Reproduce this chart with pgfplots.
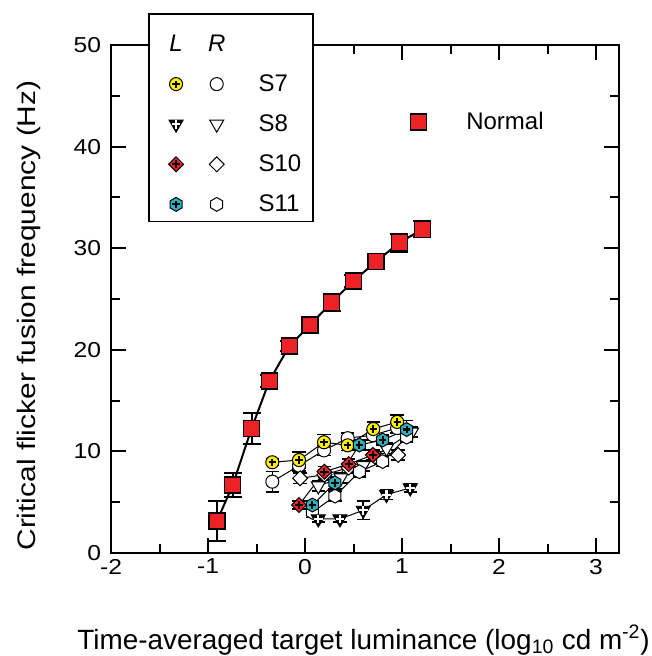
\documentclass[border=0pt]{standalone}
\usepackage{fontspec}
\setmainfont{Liberation Sans}
\newfontfamily\tickfont{Liberation Sans}[FakeStretch=1.14]
\newfontfamily\ylfont{Liberation Sans}[FakeStretch=1.18]
\usepackage{pgfplots}
\pgfplotsset{compat=1.18}
\definecolor{myred}{RGB}{237,34,36}
\definecolor{myyellow}{RGB}{255,238,0}
\definecolor{mycyan}{RGB}{44,178,190}
\newcommand\lab{\fontsize{18}{21.6}\selectfont}

\def\markplus#1{%
  \begin{pgfscope}\pgfsetlinewidth{1.6pt}\pgfsetstrokecolor{#1}%
  \pgfpathmoveto{\pgfqpoint{-0.55\pgfplotmarksize}{0pt}}\pgfpathlineto{\pgfqpoint{0.55\pgfplotmarksize}{0pt}}%
  \pgfpathmoveto{\pgfqpoint{0pt}{-0.55\pgfplotmarksize}}\pgfpathlineto{\pgfqpoint{0pt}{0.55\pgfplotmarksize}}%
  \pgfusepathqstroke\end{pgfscope}}
\pgfdeclareplotmark{circ}{\pgfpathcircle{\pgfpointorigin}{\pgfplotmarksize}\pgfusepathqfillstroke}
\pgfdeclareplotmark{cplus}{\pgfpathcircle{\pgfpointorigin}{\pgfplotmarksize}\pgfusepathqfillstroke\markplus{black}}
\def\hexpath{\pgfpathmoveto{\pgfpointpolar{90}{\pgfplotmarksize}}%
  \pgfpathlineto{\pgfpointpolar{150}{\pgfplotmarksize}}\pgfpathlineto{\pgfpointpolar{210}{\pgfplotmarksize}}%
  \pgfpathlineto{\pgfpointpolar{270}{\pgfplotmarksize}}\pgfpathlineto{\pgfpointpolar{330}{\pgfplotmarksize}}%
  \pgfpathlineto{\pgfpointpolar{30}{\pgfplotmarksize}}\pgfpathclose}
\pgfdeclareplotmark{hex}{\hexpath\pgfusepathqfillstroke}
\pgfdeclareplotmark{hexplus}{\hexpath\pgfusepathqfillstroke\markplus{black}}
\def\tripath{\pgfpathmoveto{\pgfpointpolar{270}{\pgfplotmarksize}}%
  \pgfpathlineto{\pgfpointpolar{30}{\pgfplotmarksize}}\pgfpathlineto{\pgfpointpolar{150}{\pgfplotmarksize}}\pgfpathclose}
\pgfdeclareplotmark{tri}{\tripath\pgfusepathqfillstroke}
\pgfdeclareplotmark{triplus}{\tripath\pgfusepathqfillstroke\markplus{white}}
\def\diapath{\pgfpathmoveto{\pgfpointpolar{0}{\pgfplotmarksize}}%
  \pgfpathlineto{\pgfpointpolar{90}{\pgfplotmarksize}}\pgfpathlineto{\pgfpointpolar{180}{\pgfplotmarksize}}%
  \pgfpathlineto{\pgfpointpolar{270}{\pgfplotmarksize}}\pgfpathclose}
\pgfdeclareplotmark{dia}{\diapath\pgfusepathqfillstroke}
\pgfdeclareplotmark{diaplus}{\diapath\pgfusepathqfillstroke\markplus{black}}

\pgfplotstableread{
x y e
-0.907 3.15 2.0
-0.745 6.69 1.15
-0.55 12.27 1.5
-0.368 16.93 0.6
-0.162 20.37 0.5
0.052 22.44 0.5
0.275 24.67 0.85
0.498 26.77 0.6
0.732 28.67 0.6
0.972 30.54 0.9
1.21 31.86 0.8
}\normal
\pgfplotstableread{
x y e
-0.337 8.93 0.3
-0.062 9.15 0.8
0.196 10.9 0.75
0.44 10.6 0.5
0.704 12.2 0.7
0.95 12.9 0.7
}\sevenL
\pgfplotstableread{
x y e
-0.337 7.02 1.0
-0.062 8.6 0.5
0.196 10.1 0.5
0.44 11.3 0.5
0.70 11.6 0.5
0.95 12.3 0.5
}\sevenR
\pgfplotstableread{
x y e
0.137 3.35 0.3
0.36 3.35 0.3
0.60 4.2 0.9
0.84 5.75 0.5
1.085 6.4 0.4
}\eightL
\pgfplotstableread{
x y e
0.137 6.6 0.5
0.37 7.4 0.5
0.60 8.6 0.5
0.84 10.3 0.5
1.10 11.9 0.5
}\eightR
\pgfplotstableread{
x y e
-0.062 4.72 0.4
0.20 8.0 0.5
0.45 8.75 0.5
0.70 9.65 0.5
}\tenL
\pgfplotstableread{
x y e
-0.05 7.35 0.5
0.20 7.7 0.5
0.45 8.4 0.5
0.72 9.5 0.5
0.96 9.65 0.5
}\tenR
\pgfplotstableread{
x y e
0.076 4.72 0.4
0.309 6.9 0.6
0.56 10.63 0.5
0.80 11.12 0.5
1.048 12.15 0.9
}\elevenL
\pgfplotstableread{
x y e
0.076 4.0 0.5
0.309 5.6 0.5
0.56 8.0 0.5
0.80 9.0 0.5
1.048 11.4 0.5
}\elevenR

\pgfplotsset{
  common/.style={scale only axis, width=381pt, height=381pt,
    xmin=-2, xmax=3.237, ymin=0, ymax=50, clip=false},
  pat/.style={black, line width=0.75pt, mark options={solid, line width=0.75pt, draw=black, fill=#1},
    error bars/y dir=both, error bars/y explicit,
    error bars/error bar style={line width=1.2pt, black},
    error bars/error mark options={rotate=90, mark size=5pt, line width=1.2pt, black}},
}

\begin{document}
\begin{tikzpicture}
\begin{axis}[common,
  axis line style={line width=1.5pt},
  every tick/.style={line width=1.5pt, black},
  major tick length=11pt, minor tick length=7pt,
  tick align=inside, tick pos=both,
  xtick={-2,-1,0,1,2,3}, ytick={0,10,20,30,40,50},
  minor x tick num=1, minor y tick num=1,
  /pgf/number format/assume math mode=true,
  tick label style={font=\tickfont\fontsize{16.2}{19}\selectfont},
  yticklabel style={xshift=-4pt},
  xticklabel style={yshift=-1pt},
  xlabel={Time-averaged target luminance (log\textsubscript{10} cd m\textsuperscript{-2})},
  ylabel={Critical flicker fusion frequency (Hz)},
  every axis x label/.style={at={(axis description cs:0.497,-0.189)}, anchor=base, font=\fontsize{20.9}{24}\selectfont},
  every axis y label/.style={at={(axis description cs:-0.1496,0.4675)}, anchor=base, rotate=90, font=\ylfont\fontsize{19}{23}\selectfont},
  legend image code/.code={\draw[#1] plot coordinates {(0pt,0pt)};},
  legend cell align=left,
  legend style={draw=none, fill=none, inner sep=0pt, at={(axis cs:1.088,42.42)}, anchor=west,
    font=\lab, nodes={inner sep=0pt}, /tikz/column 1/.style={column sep=29.6pt}},
]
\coordinate (O) at (rel axis cs:0,0);
\addplot+[pat=white, forget plot, mark=circ, mark size=4.9pt] table[x=x,y=y,y error=e]{\sevenR};
\addplot+[pat=white, forget plot, mark=tri, mark size=6pt] table[x=x,y=y,y error=e]{\eightR};
\addplot+[pat=white, forget plot, mark=dia, mark size=5.6pt] table[x=x,y=y,y error=e]{\tenR};
\addplot+[pat=white, forget plot, mark=hex, mark size=5.2pt] table[x=x,y=y,y error=e]{\elevenR};
\addplot+[pat=black, forget plot, mark=triplus, mark size=6pt] table[x=x,y=y,y error=e]{\eightL};
\addplot+[pat=myred, forget plot, mark=diaplus, mark size=5.6pt] table[x=x,y=y,y error=e]{\tenL};
\addplot+[pat=myyellow, forget plot, mark=cplus, mark size=4.9pt] table[x=x,y=y,y error=e]{\sevenL};
\addplot+[pat=mycyan, forget plot, mark=hexplus, mark size=5.2pt] table[x=x,y=y,y error=e]{\elevenL};
\addplot+[black, line width=1.5pt, forget plot, mark=square*, mark size=6pt,
  mark options={solid, fill=myred, draw=black, line width=1pt},
  error bars/y dir=both, error bars/y explicit, error bars/error bar style={line width=1.5pt, black},
  error bars/error mark options={rotate=90, mark size=6.75pt, line width=1.5pt, black}]
  table[x=x,y=y,y error=e]{\normal};
\addlegendimage{only marks, mark=square*, mark size=6pt, mark options={fill=myred, draw=black, line width=1pt}}
\addlegendentry{Normal}
\end{axis}
\begin{axis}[common, hide axis,
  legend columns=2,
  legend image code/.code={\draw[#1] plot coordinates {(0pt,0pt)};},
  legend cell align=left,
  legend style={draw=none, fill=none, inner sep=0pt, at={(axis cs:-1.409,51.02)}, anchor=north west,
    font=\lab, row sep=16pt, nodes={inner sep=0pt},
    /tikz/column 1/.style={column sep=17.4pt},
    /tikz/column 3/.style={column sep=24.9pt}},
]
\draw[line width=1pt, fill=white] (axis cs:-1.61,32.6) rectangle (axis cs:0.082,53.05);
\addlegendimage{legend image code/.code={\node[inner sep=0pt, anchor=center] at (0,0) {\textit{L}};}}
\addlegendentry{}
\addlegendimage{legend image code/.code={\node[inner sep=0pt, anchor=center] at (0,0) {\textit{R}};}}
\addlegendentry{}
\addlegendimage{only marks, mark=cplus, mark size=4.9pt, mark options={fill=myyellow, draw=black, line width=0.75pt}}
\addlegendentry{}
\addlegendimage{only marks, mark=circ, mark size=4.9pt, mark options={fill=white, draw=black, line width=0.75pt}}
\addlegendentry{S7}
\addlegendimage{only marks, mark=triplus, mark size=6pt, mark options={fill=black, draw=black, line width=0.75pt}}
\addlegendentry{}
\addlegendimage{only marks, mark=tri, mark size=6pt, mark options={fill=white, draw=black, line width=0.75pt}}
\addlegendentry{S8}
\addlegendimage{only marks, mark=diaplus, mark size=5.6pt, mark options={fill=myred, draw=black, line width=0.75pt}}
\addlegendentry{}
\addlegendimage{only marks, mark=dia, mark size=5.6pt, mark options={fill=white, draw=black, line width=0.75pt}}
\addlegendentry{S10}
\addlegendimage{only marks, mark=hexplus, mark size=5.2pt, mark options={fill=mycyan, draw=black, line width=0.75pt}}
\addlegendentry{}
\addlegendimage{only marks, mark=hex, mark size=5.2pt, mark options={fill=white, draw=black, line width=0.75pt}}
\addlegendentry{S11}
\end{axis}
\pgfresetboundingbox
\path (O) ++(-83.25pt,-77.25pt) rectangle ++(489pt,492pt);
\end{tikzpicture}
\end{document}
